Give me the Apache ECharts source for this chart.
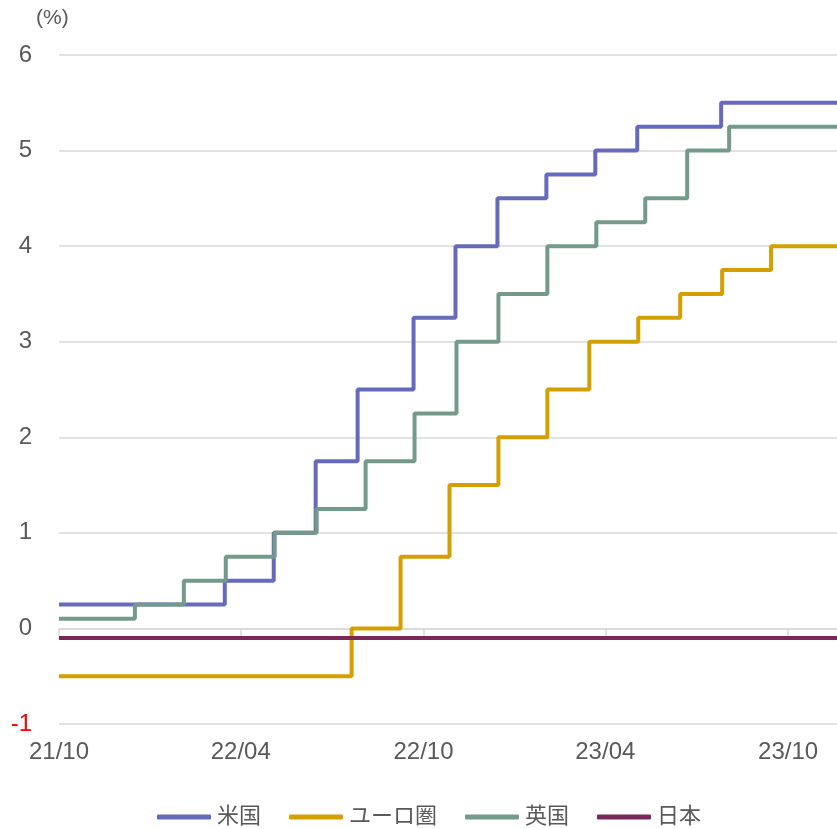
<!DOCTYPE html>
<html>
<head>
<meta charset="utf-8">
<script src="https://cdn.jsdelivr.net/npm/echarts@6/dist/echarts.min.js"></script>
<style>
  html, body { margin: 0; padding: 0; background: #fff; }
  #chart { width: 837px; height: 829px; }
</style>
</head>
<body>
<div id="chart"></div>
<script>
// Policy rates (%), each entry is the date a new rate took effect
const usDates   = ['2021-10-01','2022-03-16','2022-05-04','2022-06-15','2022-07-27','2022-09-21','2022-11-02','2022-12-14','2023-02-01','2023-03-22','2023-05-03','2023-07-26'];
const usRates   = [0.25, 0.5, 1.0, 1.75, 2.5, 3.25, 4.0, 4.5, 4.75, 5.0, 5.25, 5.5];

const euDates   = ['2021-10-01','2022-07-21','2022-09-08','2022-10-27','2022-12-15','2023-02-02','2023-03-16','2023-05-04','2023-06-15','2023-07-27','2023-09-14'];
const euRates   = [-0.5, 0.0, 0.75, 1.5, 2.0, 2.5, 3.0, 3.25, 3.5, 3.75, 4.0];

const ukDates   = ['2021-10-01','2021-12-16','2022-02-03','2022-03-17','2022-05-05','2022-06-16','2022-08-04','2022-09-22','2022-11-03','2022-12-15','2023-02-02','2023-03-23','2023-05-11','2023-06-22','2023-08-03'];
const ukRates   = [0.1, 0.25, 0.5, 0.75, 1.0, 1.25, 1.75, 2.25, 3.0, 3.5, 4.0, 4.25, 4.5, 5.0, 5.25];

const jpDates   = ['2021-10-01'];
const jpRates   = [-0.1];

const seriesNames = ['米国', 'ユーロ圏', '英国', '日本'];
const tickMonths  = ['2021-10-01', '2022-04-01', '2022-10-01', '2023-04-01', '2023-10-01'];
const startDate = '2021-10-01';
const endDate   = '2023-11-19';

const colors = ['#666ABD', '#D49F00', '#739A8A', '#78295A'];

function ts(d) { return new Date(d + 'T00:00:00Z').getTime(); }

function stepData(dates, rates) {
  const pts = dates.map((d, i) => [ts(d), rates[i]]);
  pts.push([ts(endDate), rates[rates.length - 1]]);
  return pts;
}

const tickValues = tickMonths.map(ts);
const pad2 = n => (n < 10 ? '0' : '') + n;
function fmtYM(v) {
  const d = new Date(v);
  return pad2(d.getUTCFullYear() % 100) + '/' + pad2(d.getUTCMonth() + 1);
}

const chart = echarts.init(document.getElementById('chart'), null, { renderer: 'canvas' });
const font = '"Liberation Sans", Arial, "Noto Sans CJK JP", sans-serif';

const allData = [
  stepData(usDates, usRates),
  stepData(euDates, euRates),
  stepData(ukDates, ukRates),
  stepData(jpDates, jpRates)
];

chart.setOption({
  animation: false,
  backgroundColor: '#ffffff',
  textStyle: { fontFamily: font },
  title: {
    text: '(%)',
    left: 36,
    top: 8,
    padding: 0,
    textStyle: { fontSize: 21, fontWeight: 'normal', color: '#595959', fontFamily: font }
  },
  grid: { left: 59, right: 0, top: 55, bottom: 105, containLabel: false },
  legend: {
    top: 806,
    left: 157,
    padding: 0,
    icon: 'roundRect',
    itemWidth: 54,
    itemHeight: 5,
    itemGap: 28,
    textStyle: { fontSize: 22, color: '#595959', fontFamily: font, padding: [0, 0, 0, 1] },
    data: seriesNames
  },
  xAxis: [
    {
      type: 'value',
      min: ts(startDate),
      max: ts(endDate),
      axisLine: { show: true, onZero: true, lineStyle: { color: '#D9D9D9', width: 1.5 } },
      axisTick: { show: true, length: 8, customValues: tickValues, lineStyle: { color: '#D9D9D9', width: 1.5 } },
      axisLabel: { show: false },
      splitLine: { show: false }
    },
    {
      type: 'value',
      position: 'bottom',
      min: ts(startDate),
      max: ts(endDate),
      axisLine: { show: false, onZero: false },
      axisTick: { show: false },
      splitLine: { show: false },
      axisLabel: {
        show: true,
        customValues: tickValues,
        margin: 16,
        fontSize: 24,
        color: '#595959',
        fontFamily: font,
        formatter: fmtYM
      }
    }
  ],
  yAxis: {
    type: 'value',
    min: -1,
    max: 6,
    interval: 1,
    axisLine: { show: false },
    axisTick: { show: false },
    splitLine: { show: true, lineStyle: { color: '#D9D9D9', width: 1.5 } },
    axisLabel: {
      margin: 27,
      fontSize: 24,
      fontFamily: font,
      color: v => (v < 0 ? '#FF0000' : '#595959')
    }
  },
  series: seriesNames.map((name, i) => ({
    name: name,
    type: 'line',
    step: 'end',
    xAxisIndex: 0,
    data: allData[i],
    symbol: 'none',
    lineStyle: { color: colors[i], width: 4 },
    itemStyle: { color: colors[i] }
  }))
});
</script>
</body>
</html>
